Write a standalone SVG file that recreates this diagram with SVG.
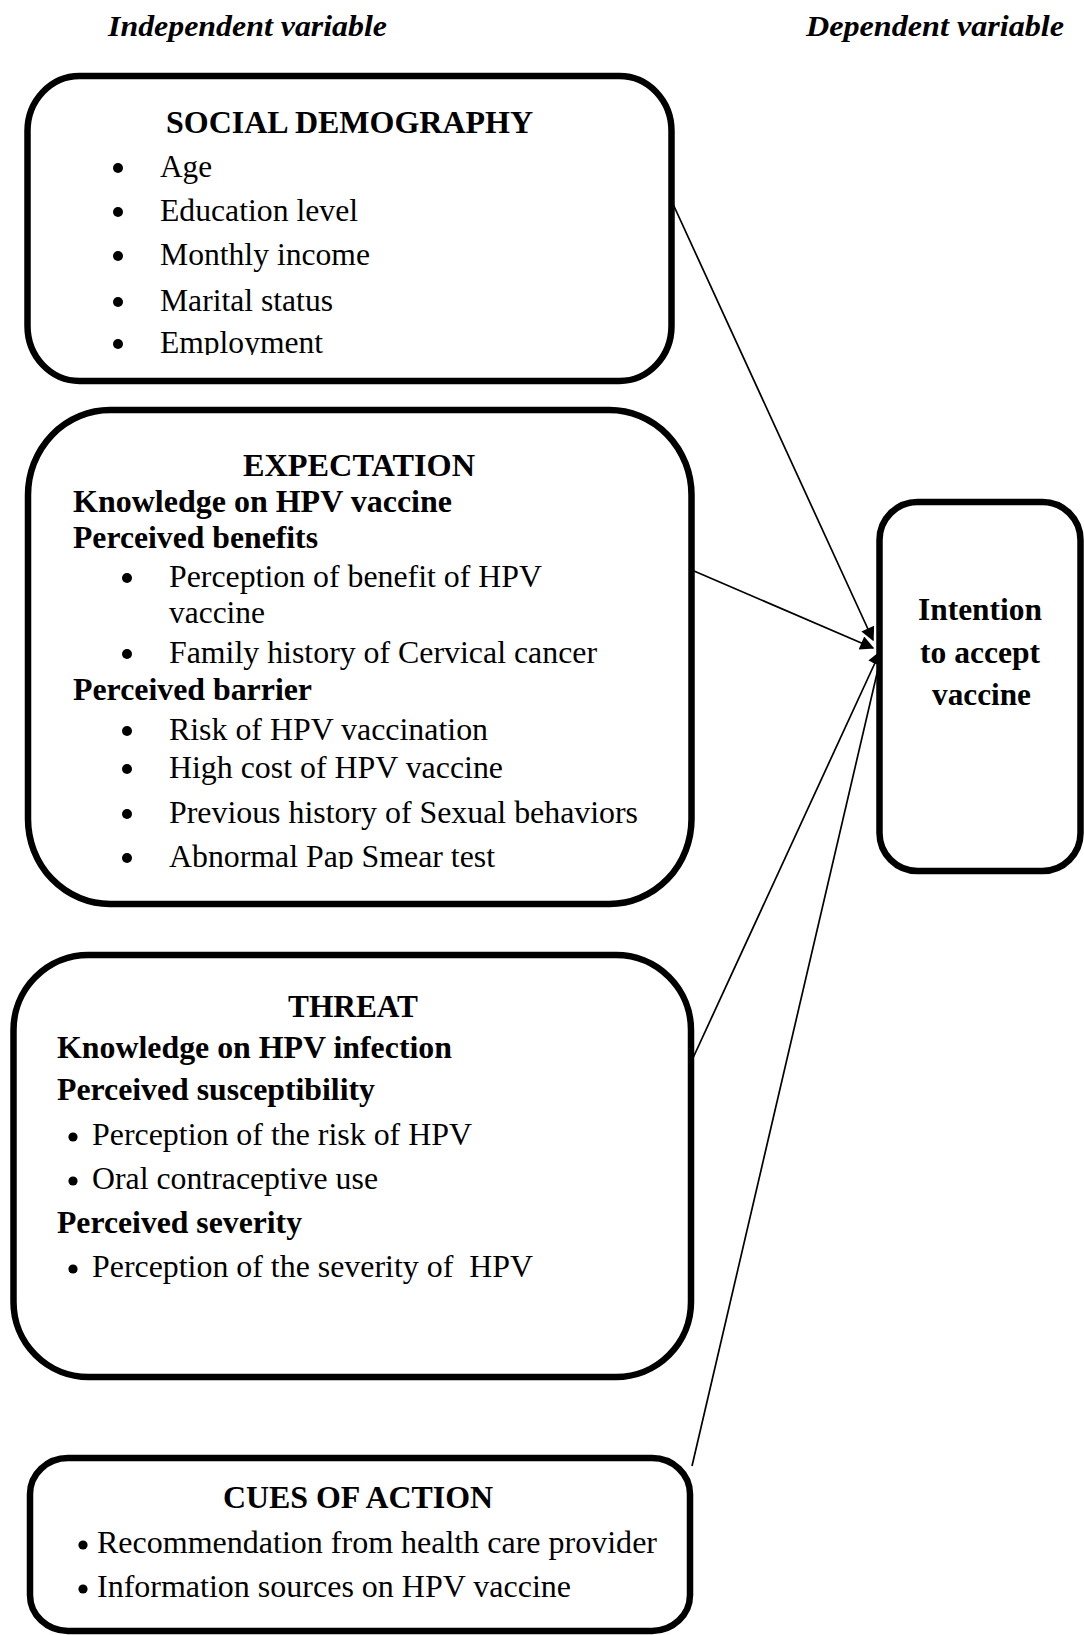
<svg xmlns="http://www.w3.org/2000/svg" width="1084" height="1635" viewBox="0 0 1084 1635">
<style>
.box{fill:#fff;stroke:#000;stroke-width:6.5}
.t{font-family:"Liberation Serif","Times New Roman",Times,serif;font-size:32px;fill:#000}
.b{font-weight:bold;font-size:31px}
.hd{font-family:"Liberation Serif","Times New Roman",Times,serif;font-size:30px;font-weight:bold;font-style:italic;fill:#000}
.c{stroke:#000;stroke-width:1.7;fill:none}
.dot{fill:#000}
</style>
<defs>
<marker id="ah" viewBox="0 0 10 10" refX="9" refY="5" markerUnits="userSpaceOnUse" markerWidth="19" markerHeight="14" orient="auto">
<path d="M0,0 L10,5 L0,10 z" fill="#000"/>
</marker>
<clipPath id="clipSoc"><rect x="30" y="80" width="640" height="275"/></clipPath>
<clipPath id="clipExp"><rect x="30" y="415" width="660" height="454"/></clipPath>
</defs>

<g id="headers">
<text class="hd" x="108" y="36" textLength="279" lengthAdjust="spacingAndGlyphs">Independent variable</text>
<text class="hd" x="806" y="36" textLength="258" lengthAdjust="spacingAndGlyphs">Dependent variable</text>
</g>

<g id="connectors">
<line class="c" x1="673" y1="204" x2="873" y2="640" marker-end="url(#ah)"/>
<line class="c" x1="694" y1="571" x2="873" y2="648" stroke-width="2.2" marker-end="url(#ah)"/>
<line class="c" x1="693" y1="1058" x2="880" y2="652" marker-end="url(#ah)"/>
<line class="c" x1="692" y1="1466" x2="882" y2="652" marker-end="url(#ah)"/>
</g>

<g id="social-demography">
<rect class="box" x="27.5" y="76" width="644" height="305" rx="52" ry="55"/>
<text class="t b" x="166" y="133" textLength="367" lengthAdjust="spacingAndGlyphs">SOCIAL DEMOGRAPHY</text>
<g clip-path="url(#clipSoc)">
<circle class="dot" cx="118" cy="168" r="5"/>
<text class="t" x="160" y="177" textLength="52" lengthAdjust="spacingAndGlyphs">Age</text>
<circle class="dot" cx="118" cy="212" r="5"/>
<text class="t" x="160" y="221" textLength="198" lengthAdjust="spacingAndGlyphs">Education level</text>
<circle class="dot" cx="118" cy="256" r="5"/>
<text class="t" x="160" y="265" textLength="210" lengthAdjust="spacingAndGlyphs">Monthly income</text>
<circle class="dot" cx="118" cy="302" r="5"/>
<text class="t" x="160" y="311" textLength="173" lengthAdjust="spacingAndGlyphs">Marital status</text>
<circle class="dot" cx="118" cy="344" r="5"/>
<text class="t" x="160" y="353" textLength="163" lengthAdjust="spacingAndGlyphs">Employment</text>
</g>
</g>

<g id="expectation">
<rect class="box" x="28" y="410" width="663.5" height="494" rx="82" ry="85"/>
<text class="t b" x="243" y="476" textLength="232" lengthAdjust="spacingAndGlyphs">EXPECTATION</text>
<text class="t b" x="73" y="512" textLength="379" lengthAdjust="spacingAndGlyphs">Knowledge on HPV vaccine</text>
<text class="t b" x="73" y="548" textLength="245" lengthAdjust="spacingAndGlyphs">Perceived benefits</text>
<circle class="dot" cx="127" cy="578" r="5"/>
<text class="t" x="169" y="587" textLength="373" lengthAdjust="spacingAndGlyphs">Perception of benefit of HPV</text>
<text class="t" x="169" y="623" textLength="96" lengthAdjust="spacingAndGlyphs">vaccine</text>
<circle class="dot" cx="127" cy="654" r="5"/>
<text class="t" x="169" y="663" textLength="428" lengthAdjust="spacingAndGlyphs">Family history of Cervical cancer</text>
<text class="t b" x="73" y="700" textLength="239" lengthAdjust="spacingAndGlyphs">Perceived barrier</text>
<circle class="dot" cx="127" cy="731" r="5"/>
<text class="t" x="169" y="740" textLength="319" lengthAdjust="spacingAndGlyphs">Risk of HPV vaccination</text>
<circle class="dot" cx="127" cy="769" r="5"/>
<text class="t" x="169" y="778" textLength="334" lengthAdjust="spacingAndGlyphs">High cost of HPV vaccine</text>
<circle class="dot" cx="127" cy="814" r="5"/>
<text class="t" x="169" y="823" textLength="469" lengthAdjust="spacingAndGlyphs">Previous history of Sexual behaviors</text>
<g clip-path="url(#clipExp)">
<circle class="dot" cx="127" cy="858" r="5"/>
<text class="t" x="169" y="867" textLength="326" lengthAdjust="spacingAndGlyphs">Abnormal Pap Smear test</text>
</g>
</g>

<g id="threat">
<rect class="box" x="13.5" y="955" width="677.5" height="422" rx="75" ry="75"/>
<text class="t b" x="288" y="1017" textLength="130" lengthAdjust="spacingAndGlyphs">THREAT</text>
<text class="t b" x="57" y="1058" textLength="395" lengthAdjust="spacingAndGlyphs">Knowledge on HPV infection</text>
<text class="t b" x="57" y="1100" textLength="318" lengthAdjust="spacingAndGlyphs">Perceived susceptibility</text>
<circle class="dot" cx="73" cy="1137" r="4.6"/>
<text class="t" x="92" y="1145" textLength="380" lengthAdjust="spacingAndGlyphs">Perception of the risk of HPV</text>
<circle class="dot" cx="73" cy="1181" r="4.6"/>
<text class="t" x="92" y="1189" textLength="286" lengthAdjust="spacingAndGlyphs">Oral contraceptive use</text>
<text class="t b" x="57" y="1233" textLength="245" lengthAdjust="spacingAndGlyphs">Perceived severity</text>
<circle class="dot" cx="73" cy="1269" r="4.6"/>
<text class="t" xml:space="preserve" x="92" y="1277" textLength="441" lengthAdjust="spacingAndGlyphs">Perception of the severity of  HPV</text>
</g>

<g id="cues-of-action">
<rect class="box" x="30" y="1458" width="660" height="173" rx="38" ry="36"/>
<text class="t b" x="223" y="1508" textLength="270" lengthAdjust="spacingAndGlyphs">CUES OF ACTION</text>
<circle class="dot" cx="83" cy="1545" r="4.6"/>
<text class="t" x="97" y="1553" textLength="560" lengthAdjust="spacingAndGlyphs">Recommendation from health care provider</text>
<circle class="dot" cx="83" cy="1589" r="4.6"/>
<text class="t" x="97" y="1597" textLength="474" lengthAdjust="spacingAndGlyphs">Information sources on HPV vaccine</text>
</g>

<g id="intention">
<rect class="box" x="879.5" y="502" width="201" height="369" rx="38" ry="38"/>
<text class="t b" x="918" y="620" textLength="124" lengthAdjust="spacingAndGlyphs">Intention</text>
<text class="t b" x="920" y="663" textLength="120" lengthAdjust="spacingAndGlyphs">to accept</text>
<text class="t b" x="932" y="705" textLength="99" lengthAdjust="spacingAndGlyphs">vaccine</text>
</g>
</svg>
